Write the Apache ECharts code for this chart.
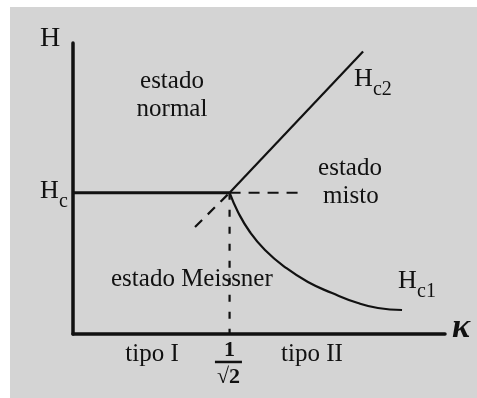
<!DOCTYPE html>
<html>
<head>
<meta charset="utf-8">
<script src="https://cdn.jsdelivr.net/npm/echarts@6/dist/echarts.min.js"></script>
<style>
  html, body { margin: 0; padding: 0; background: #ffffff; }
  #chart { width: 477px; height: 398px; }
</style>
</head>
<body>
<div id="chart"></div>
<script>
// Phase diagram H(κ) of a superconductor, in units of Hc.
const kappaC = 0.7071;                       // κ = 1/√2, type I / type II boundary
const hcLine = [[0, 1], [kappaC, 1]];        // thermodynamic critical field Hc
const hcContinuation = [[kappaC, 1], [1.016, 1]];
const kappaCDrop = [[kappaC, 1], [kappaC, 0]];
const hc2Line = [[kappaC, 1], [1.31, 2.0]];  // upper critical field Hc2
const hc2Continuation = [[0.551, 0.757], [kappaC, 1]];
const hc1Curve = [                           // lower critical field Hc1
  [0.7071, 1.0], [0.745, 0.864], [0.799, 0.722], [0.867, 0.595],
  [0.957, 0.474], [1.061, 0.368], [1.170, 0.290], [1.287, 0.219],
  [1.377, 0.184], [1.486, 0.170]
];

// Region and curve annotations, anchored in (κ, H) coordinates.
const regionLabels = [
  { text: 'estado', at: [0.447, 1.787] },
  { text: 'normal', at: [0.447, 1.589] },
  { text: 'estado', at: [1.251, 1.171] },
  { text: 'misto', at: [1.255, 0.973] },
  { text: 'estado Meissner', at: [0.537, 0.385] },
  { text: 'tipo I', at: [0.357, -0.146] },
  { text: 'tipo II', at: [1.079, -0.146] }
];
const fieldLabels = [
  { main: 'H', sub: 'c', at: [-0.149, 1.011] },
  { main: 'H', sub: 'c2', at: [1.269, 1.804] },
  { main: 'H', sub: 'c1', at: [1.468, 0.374] }
];

const SERIF = "'Liberation Serif', 'Times New Roman', serif";
const INK = '#111111';

const chart = echarts.init(document.getElementById('chart'), null, { renderer: 'canvas' });

function lineSeries(data, width, type, smooth) {
  return {
    type: 'line',
    data: data,
    showSymbol: false,
    symbol: 'none',
    smooth: smooth || false,
    silent: true,
    lineStyle: { color: INK, width: width, type: type || 'solid', cap: 'butt' },
    z: 3
  };
}

const hiddenAxisParts = {
  axisTick: { show: false },
  axisLabel: { show: false },
  splitLine: { show: false },
  axisLine: { show: true, lineStyle: { color: INK, width: 3.5 } }
};

chart.setOption({
  backgroundColor: '#ffffff',
  animation: false,
  grid: { left: 73, right: 32, top: 43, bottom: 64 },
  xAxis: Object.assign({ type: 'value', min: 0, max: 1.68 }, hiddenAxisParts),
  yAxis: Object.assign({ type: 'value', min: 0, max: 2.06 }, hiddenAxisParts),
  series: [
    lineSeries(hcLine, 2.8),
    lineSeries(hcContinuation, 2.2, [11, 8]),
    lineSeries(kappaCDrop, 2.2, [7, 10]),
    lineSeries(hc2Line, 2.2),
    lineSeries(hc2Continuation, 2.2, [10, 8]),
    lineSeries(hc1Curve, 2.2, 'solid', 0.5)
  ]
});

const px = (pt) => chart.convertToPixel({ gridIndex: 0 }, pt);

const graphics = [{
  type: 'rect',
  shape: { x: 10, y: 7, width: 467, height: 391 },
  style: { fill: '#d4d4d4' },
  z: -100,
  silent: true
}];

regionLabels.forEach(function (l) {
  const p = px(l.at);
  graphics.push({
    type: 'text', x: p[0], y: p[1], silent: true, z: 10,
    style: { text: l.text, font: '25px ' + SERIF, fill: INK, align: 'center', verticalAlign: 'middle' }
  });
});

fieldLabels.forEach(function (l) {
  const p = px(l.at);
  graphics.push({
    type: 'text', x: p[0], y: p[1], silent: true, z: 10,
    style: { text: l.main, font: '26px ' + SERIF, fill: INK, align: 'left', verticalAlign: 'middle' }
  });
  graphics.push({
    type: 'text', x: p[0] + 19, y: p[1] + 11, silent: true, z: 10,
    style: { text: l.sub, font: '20px ' + SERIF, fill: INK, align: 'left', verticalAlign: 'middle' }
  });
});

// Axis names: H on the vertical axis, κ on the horizontal axis
const hName = px([-0.149, 2.092]);
graphics.push({
  type: 'text', x: hName[0], y: hName[1], silent: true, z: 10,
  style: { text: 'H', font: '28px ' + SERIF, fill: INK, align: 'left', verticalAlign: 'middle' }
});
const kName = px([1.712, 0.042]);
graphics.push({
  type: 'text', x: kName[0], y: kName[1], silent: true, z: 10,
  style: { text: 'κ', font: 'italic bold 34px ' + SERIF, fill: INK, align: 'left', verticalAlign: 'middle' }
});

// 1/√2 marker under the boundary κ
const one = px([kappaC, -0.118]);
graphics.push({
  type: 'text', x: one[0], y: one[1], silent: true, z: 10,
  style: { text: '1', font: 'bold 22px ' + SERIF, fill: INK, align: 'center', verticalAlign: 'middle' }
});
const barL = px([0.641, -0.198]);
const barR = px([0.763, -0.198]);
graphics.push({
  type: 'line', silent: true, z: 10,
  shape: { x1: barL[0], y1: barL[1], x2: barR[0], y2: barR[1] },
  style: { stroke: INK, lineWidth: 2.5 }
});
const root = px([kappaC - 0.005, -0.304]);
graphics.push({
  type: 'text', x: root[0], y: root[1], silent: true, z: 10,
  style: { text: '√2', font: 'bold 22px ' + SERIF, fill: INK, align: 'center', verticalAlign: 'middle' }
});

chart.setOption({ graphic: graphics });
</script>
</body>
</html>
